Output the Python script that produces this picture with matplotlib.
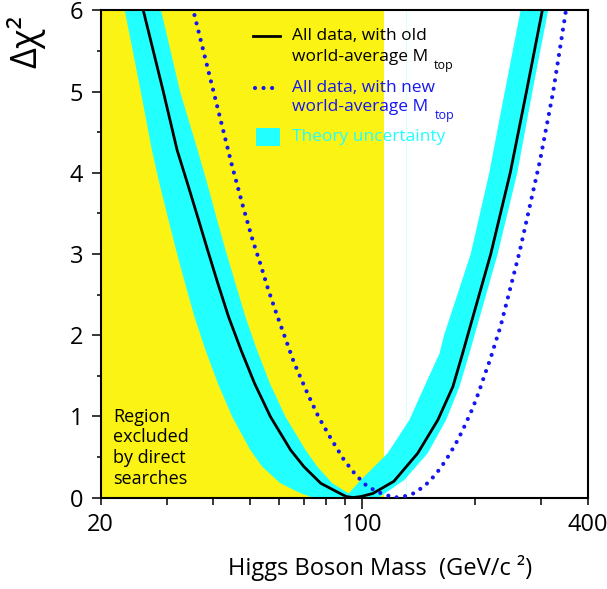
import matplotlib
matplotlib.use('Agg')
from matplotlib import pyplot as plt
from matplotlib.patches import Rectangle

# Higgs mass (GeV/c^2) and delta chi^2
old_mass = [26.0, 29.4, 32.0, 34.1, 36.3, 38.6, 41.1, 43.9, 47.4, 51.5, 56.8, 64.3,
            69.8, 77.4, 87.0, 90.5, 94.4, 99.0, 106.6, 121.3, 140.4, 158.9, 174.3,
            185.1, 192.6, 220, 248, 274, 302]
old_chi2 = [6.0, 5.0, 4.281, 3.871, 3.459, 3.049, 2.639, 2.227, 1.817, 1.407, 0.995, 0.585,
            0.379, 0.175, 0.052, 0.012, 0.0, 0.012, 0.05, 0.2, 0.545, 0.955, 1.365,
            1.777, 2.06, 3.0, 4.0, 5.0, 6.0]

new_mass = [35.6, 44.8, 48.0, 50.9, 53.4, 56.0, 58.9, 62.1, 65.6, 71.3, 76.3, 82.3, 89.3,
            96.0, 103.2, 113.1, 122.1, 132.0, 138.9, 150.8, 161.4, 171.0, 180.4, 188.8,
            197.1, 204.5, 211.7, 219.3, 226.2, 233.7, 262.7, 298.0, 322.9, 348.9]
new_chi2 = [5.944, 4.096, 3.583, 3.172, 2.877, 2.565, 2.269, 1.974, 1.666, 1.284, 0.995,
            0.729, 0.462, 0.277, 0.133, 0.043, 0.0, 0.022, 0.064, 0.195, 0.360, 0.536,
            0.724, 0.914, 1.106, 1.300, 1.505, 1.703, 1.903, 2.109, 3.028, 4.158, 4.999,
            5.985]

# theory uncertainty band edges
band_left_outer_m = [23.2, 25.6, 27.4, 28.7, 30.2, 31.8, 33.6, 35.6, 38.1, 41.1, 44.9,
                     50.2, 54.0, 60.4, 68.4, 73.6]
band_left_outer_d = [6.0, 5.0, 4.281, 3.871, 3.459, 3.049, 2.639, 2.227, 1.817, 1.407,
                     0.995, 0.585, 0.379, 0.175, 0.052, 0.0]
band_right_outer_m = [110.6, 129.3, 149.3, 167.2, 181.5, 193.0, 229.6, 259.0, 284.2, 313]
band_right_outer_d = [0.0, 0.216, 0.545, 0.955, 1.365, 1.777, 3.0, 4.0, 5.0, 6.0]
band_right_inner_m = [264.3, 239.8, 218.0, 194.5, 165.1, 160.6, 146.2, 133.4, 116.7,
                      99.0, 91.9]
band_right_inner_d = [6.0, 5.0, 4.0, 3.0, 2.0, 1.777, 1.365, 0.955, 0.545, 0.216, 0.05]
band_left_inner_m = [83.1, 75.8, 70.5, 62.3, 56.6, 52.3, 48.7, 45.8, 43.1, 40.7, 38.5,
                     36.3, 32.6, 29.0]
band_left_inner_d = [0.175, 0.379, 0.585, 0.995, 1.407, 1.817, 2.227, 2.639, 3.049,
                     3.459, 3.871, 4.281, 5.0, 6.0]

excluded_limit = 114.4
faint_line = 130.4

YELLOW = '#faf314'
CYAN = '#22ffff'
BLUE = '#1616f0'

plt.rcParams['font.family'] = ['Open Sans', 'DejaVu Sans']

fig = plt.figure(figsize=(6.07, 5.89), dpi=100)
ax = fig.add_axes([0.1658, 0.1553, 0.8029, 0.8269])

ax.axvspan(20, excluded_limit, color=YELLOW, lw=0, zorder=0)
ax.axvline(faint_line, color='#d8ffff', lw=0.8, zorder=0.5)

band_m = band_left_outer_m + band_right_outer_m + band_right_inner_m + band_left_inner_m
band_d = band_left_outer_d + band_right_outer_d + band_right_inner_d + band_left_inner_d
ax.fill(band_m, band_d, color=CYAN, lw=0, zorder=1)

ax.plot(old_mass, old_chi2, color='black', lw=2.0, zorder=2)
ax.plot(new_mass, new_chi2, color=BLUE, lw=3.0, linestyle=(0, (0.001, 2.05)),
        dash_capstyle='round', zorder=3)

ax.set_xscale('log')
ax.set_xlim(20, 400)
ax.set_ylim(0, 6)

ax.set_xticks([20, 100, 400], ['20', '100', '400'])
ax.set_xticks([30, 40, 50, 60, 70, 80, 90, 200, 300], minor=True)
ax.xaxis.set_minor_formatter(plt.NullFormatter())
ax.set_yticks(range(7))
ax.set_yticks([0.5, 1.5, 2.5, 3.5, 4.5, 5.5], minor=True)
ax.tick_params(axis='both', which='major', direction='out', length=5, width=1.1,
               labelsize=17, pad=6)
ax.tick_params(axis='both', which='minor', direction='out', length=3, width=1.1)
ax.tick_params(axis='y', which='major', length=6.5)
ax.tick_params(axis='x', which='minor', length=5)
ax.xaxis.get_major_ticks()[1].tick1line.set_markersize(8)
for s in ax.spines.values():
    s.set_linewidth(1.5)

# legend, drawn by hand
ax.plot([0.312, 0.369], [0.948, 0.948], color='black', lw=2.0, transform=ax.transAxes)
ax.text(0.393, 0.948, 'All data, with old', transform=ax.transAxes, va='center', fontsize=12.5)
ax.text(0.393, 0.905, 'world-average M', transform=ax.transAxes, va='center', fontsize=12.5)
ax.text(0.683, 0.888, 'top', transform=ax.transAxes, va='center', fontsize=9)

ax.plot([0.317, 0.354], [0.840, 0.840], color=BLUE, lw=3.0, linestyle=(0, (0.001, 2.05)),
        dash_capstyle='round', transform=ax.transAxes)
ax.text(0.393, 0.840, 'All data, with new', transform=ax.transAxes, va='center',
        fontsize=12.5, color=BLUE)
ax.text(0.393, 0.801, 'world-average M', transform=ax.transAxes, va='center',
        fontsize=12.5, color=BLUE)
ax.text(0.685, 0.784, 'top', transform=ax.transAxes, va='center', fontsize=9, color=BLUE)

ax.add_patch(Rectangle((0.319, 0.721), 0.048, 0.037, transform=ax.transAxes,
                       color=CYAN, lw=0))
ax.text(0.393, 0.741, 'Theory uncertainty', transform=ax.transAxes, va='center',
        fontsize=12.5, color=CYAN)

ax.text(0.026, 0.102, 'Region\nexcluded\nby direct\nsearches', transform=ax.transAxes,
        va='center', fontsize=13, linespacing=1.2)

fig.text(0.626, 0.036, 'Higgs Boson Mass  (GeV/c ²)', ha='center', va='center', fontsize=17)
fig.text(0.043, 0.929, 'Δχ²', ha='center', va='center', fontsize=26, rotation=90)

fig.savefig('out.png', dpi=100)
